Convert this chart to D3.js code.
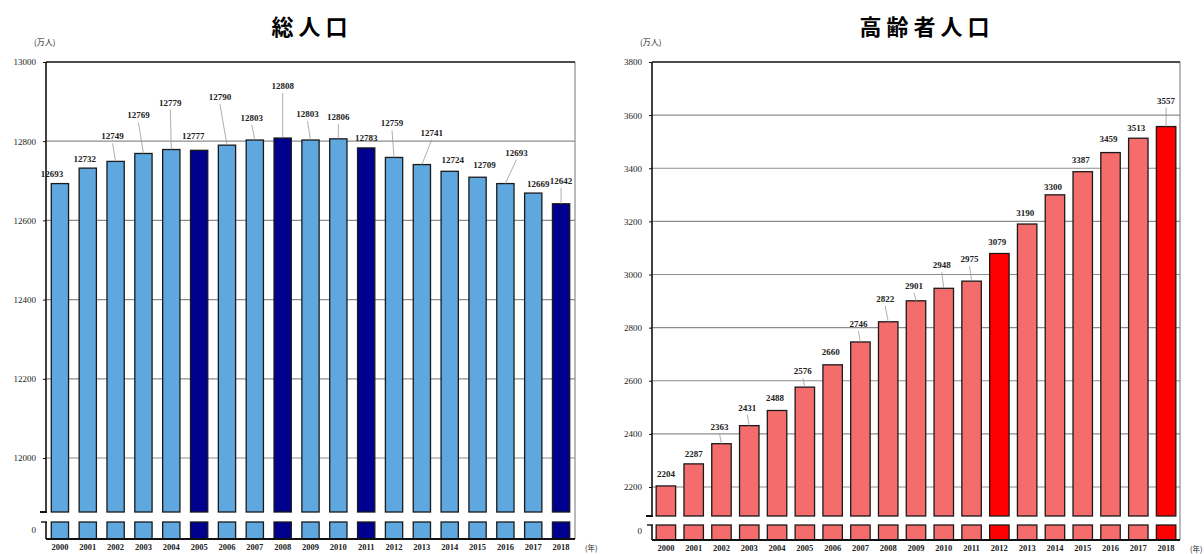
<!DOCTYPE html>
<html>
<head>
<meta charset="utf-8">
<script src="https://cdn.jsdelivr.net/npm/d3@7"></script>
<style>
  body { margin: 0; background: #fff; }
  svg { display: block; }
</style>
</head>
<body>
<script>
// data
const years = ["2000","2001","2002","2003","2004","2005","2006","2007","2008","2009",
               "2010","2011","2012","2013","2014","2015","2016","2017","2018"];
const totalPop   = [12693,12732,12749,12769,12779,12777,12790,12803,12808,12803,
                    12806,12783,12759,12741,12724,12709,12693,12669,12642];
const elderlyPop = [2204,2287,2363,2431,2488,2576,2660,2746,2822,2901,
                    2948,2975,3079,3190,3300,3387,3459,3513,3557];
const totalHighlight   = ["2005","2008","2011","2018"];
const elderlyHighlight = ["2012","2018"];
const totalTicks   = [12000,12200,12400,12600,12800,13000];
const elderlyTicks = [2200,2400,2600,2800,3000,3200,3400,3600,3800];

// label placement (dx, dy from bar top centre) - layout only
const totalLabelOff = [[-8,-7],[-3,-6],[-3,-22],[-5,-35],[-1,-44],[-6,-11],[-7,-45],[-3,-19],[0,-49],[-3,-23],
                       [0,-19],[0,-7],[-2,-31],[10,-29],[3,-8],[7,-9],[11,-28],[5,-6],[0,-20]];
const elderlyLabelOff = [[0,-9],[0,-7],[-2,-14],[-2,-15],[-2,-10],[-2,-13],[-2,-10],[-2,-15],[-3,-20],[-2,-12],
                         [-2,-20],[-2,-19],[-2,-9],[-2,-8],[-2,-5],[-2,-9],[-2,-11],[-2,-7],[0,-23]];

const W = 1204, H = 554;
const svg = d3.select("body").append("svg")
    .attr("width", W)
    .attr("height", H);

const numFont = "'Liberation Serif', 'DejaVu Serif', serif";
const jpFont  = "'Noto Sans CJK JP', sans-serif";

function drawPanel(cfg){
    const g = svg.append("g");

    const x = d3.scaleBand()
        .domain(years)
        .range([cfg.x0, cfg.x1])
        .paddingInner(cfg.pad)
        .paddingOuter(cfg.pad / 2);

    const y = d3.scaleLinear()
        .domain([cfg.ticks[0], cfg.ticks[cfg.ticks.length - 1]])
        .range([cfg.tickBottom, cfg.top]);

    // grid lines
    g.selectAll(".grid")
        .data(cfg.ticks.slice(0, -1))
        .enter()
        .append("line")
        .attr("x1", cfg.x0).attr("x2", cfg.x1)
        .attr("y1", d => y(d)).attr("y2", d => y(d))
        .attr("stroke", "#8c8c8c")
        .attr("stroke-width", 1.2);

    // right frame
    g.append("line")
        .attr("x1", cfg.x1).attr("x2", cfg.x1)
        .attr("y1", cfg.top).attr("y2", cfg.base)
        .attr("stroke", "#8c8c8c").attr("stroke-width", 1.2);

    const data = years.map((yr, i) => ({year: yr, value: cfg.values[i], off: cfg.labelOff[i]}));
    const fill = d => cfg.highlight.includes(d.year) ? cfg.dark : cfg.light;

    // upper segment of bars
    g.selectAll(".bar")
        .data(data)
        .enter()
        .append("rect")
        .attr("x", d => x(d.year))
        .attr("y", d => y(d.value))
        .attr("width", x.bandwidth())
        .attr("height", d => cfg.breakY - y(d.value))
        .attr("fill", fill)
        .attr("stroke", "#1a1a1a")
        .attr("stroke-width", 1.3);

    // lower segment (near zero)
    g.selectAll(".barlow")
        .data(data)
        .enter()
        .append("rect")
        .attr("x", d => x(d.year))
        .attr("y", cfg.lowTop)
        .attr("width", x.bandwidth())
        .attr("height", cfg.base - cfg.lowTop)
        .attr("fill", fill)
        .attr("stroke", "#1a1a1a")
        .attr("stroke-width", 1.3);

    // top frame
    g.append("line")
        .attr("x1", cfg.x0).attr("x2", cfg.x1)
        .attr("y1", cfg.top).attr("y2", cfg.top)
        .attr("stroke", "#111").attr("stroke-width", 1.6);

    // left axis (broken)
    g.append("line")
        .attr("x1", cfg.x0).attr("x2", cfg.x0)
        .attr("y1", cfg.top).attr("y2", cfg.breakY)
        .attr("stroke", "#111").attr("stroke-width", 1.6);
    g.append("line")
        .attr("x1", cfg.x0 - 6).attr("x2", cfg.x0 + 1)
        .attr("y1", cfg.breakY).attr("y2", cfg.breakY)
        .attr("stroke", "#111").attr("stroke-width", 2);
    g.append("line")
        .attr("x1", cfg.x0).attr("x2", cfg.x0)
        .attr("y1", cfg.lowTop).attr("y2", cfg.base)
        .attr("stroke", "#111").attr("stroke-width", 1.6);
    g.append("line")
        .attr("x1", cfg.x0 - 5).attr("x2", cfg.x0 + 1)
        .attr("y1", cfg.lowTop).attr("y2", cfg.lowTop)
        .attr("stroke", "#111").attr("stroke-width", 1.4);

    // baseline
    g.append("line")
        .attr("x1", cfg.x0).attr("x2", cfg.x1)
        .attr("y1", cfg.base).attr("y2", cfg.base)
        .attr("stroke", "#111").attr("stroke-width", 1.8);

    // y axis labels
    const yAxis = g.append("g")
        .attr("transform", "translate(" + cfg.x0 + ",0)")
        .call(d3.axisLeft(y).tickValues(cfg.ticks).tickSize(3).tickPadding(7).tickFormat(d3.format("")));
    yAxis.select(".domain").remove();
    yAxis.selectAll("text").attr("font-family", numFont).attr("font-size", "9px").attr("fill", "#222");
    yAxis.selectAll("line").attr("stroke", "#111");

    g.append("text")
        .attr("x", cfg.x0 - 10)
        .attr("y", cfg.base - 6)
        .attr("text-anchor", "end")
        .attr("font-family", numFont)
        .attr("font-size", "9px")
        .attr("fill", "#222")
        .text("0");

    // x axis labels
    const xAxis = g.append("g")
        .attr("transform", "translate(0," + cfg.base + ")")
        .call(d3.axisBottom(x).tickSize(0).tickPadding(5));
    xAxis.select(".domain").remove();
    xAxis.selectAll("text").attr("font-family", numFont).attr("font-size", "8.5px").attr("font-weight", "bold").attr("fill", "#222");

    g.append("text")
        .attr("x", cfg.x1 + 10)
        .attr("y", cfg.base + 12)
        .attr("font-family", jpFont)
        .attr("font-size", "7.5px")
        .attr("fill", "#222")
        .text("(年)");

    // leader lines
    g.selectAll(".leader")
        .data(data.filter(d => d.off[1] < -11))
        .enter()
        .append("line")
        .attr("x1", d => x(d.year) + x.bandwidth() / 2 + d.off[0])
        .attr("y1", d => y(d.value) + d.off[1] + 4)
        .attr("x2", d => x(d.year) + x.bandwidth() / 2)
        .attr("y2", d => y(d.value))
        .attr("stroke", "#999")
        .attr("stroke-width", 0.8);

    // value labels
    g.selectAll(".textlabel")
        .data(data)
        .enter()
        .append("text")
        .attr("x", d => x(d.year) + x.bandwidth() / 2 + d.off[0])
        .attr("y", d => y(d.value) + d.off[1])
        .attr("text-anchor", "middle")
        .attr("font-family", numFont)
        .attr("font-size", "9px")
        .attr("font-weight", "bold")
        .attr("fill", "#222")
        .text(d => d.value);

    // unit
    g.append("text")
        .attr("x", cfg.x0 - 12)
        .attr("y", cfg.top - 17)
        .attr("font-family", jpFont)
        .attr("font-size", "8px")
        .attr("fill", "#222")
        .text("(万人)");

    // title
    g.append("text")
        .attr("x", cfg.titleX)
        .attr("y", 35)
        .attr("text-anchor", "middle")
        .attr("font-family", jpFont)
        .attr("font-size", "22px")
        .attr("font-weight", "bold")
        .attr("letter-spacing", "5px")
        .attr("fill", "#000")
        .text(cfg.title);
}

drawPanel({
    title: "総人口", titleX: 312,
    values: totalPop, ticks: totalTicks, highlight: totalHighlight, labelOff: totalLabelOff,
    light: "#5ea7df", dark: "#00008f",
    x0: 46, x1: 575, pad: 0.38,
    top: 62, tickBottom: 458, breakY: 512, lowTop: 522, base: 539
});

drawPanel({
    title: "高齢者人口", titleX: 927,
    values: elderlyPop, ticks: elderlyTicks, highlight: elderlyHighlight, labelOff: elderlyLabelOff,
    light: "#f46c6c", dark: "#ff0000",
    x0: 652, x1: 1180, pad: 0.3,
    top: 62, tickBottom: 487, breakY: 516, lowTop: 525, base: 540
});
</script>
</body>
</html>
